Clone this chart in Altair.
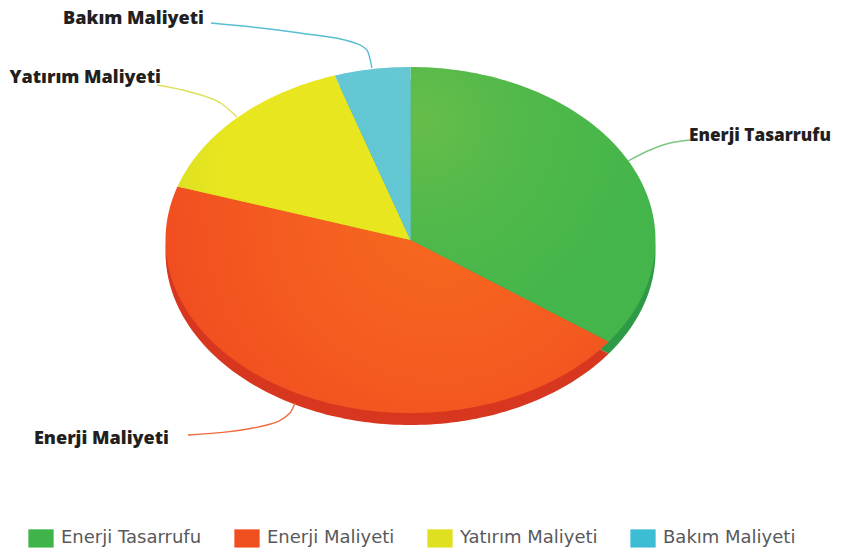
import math
import altair as alt
import pandas as pd

categories = ["Enerji Tasarrufu", "Enerji Maliyeti", "Yatırım Maliyeti", "Bakım Maliyeti"]
shares = [35, 45, 15, 5]
legend_colors = ["#3fb44a", "#f0501f", "#dfe01f", "#3dbdd3"]
rim_colors = ["#2f9a45", "#d7371f", "#c9c91c", "#3aa9bb"]
face_stops = [
    [("#66bd4b", 0.0), ("#52b94a", 0.4), ("#43b54a", 1.0)],
    [("#f7691f", 0.0), ("#f45b20", 0.45), ("#ee4220", 1.0)],
    [("#e8e61e", 0.0), ("#e8e61e", 0.6), ("#d8dc28", 1.0)],
    [("#62c6d3", 0.0), ("#66c8d4", 1.0)],
]
grad_centres = [(0.1, 0.2), (0.62, 0.3), (0.7, 0.6), (0.5, 0.5)]
label_x = [689, 169, 161, 204]
label_y = [140.5, 444, 83, 24]
leader_x = [
    [628, 650, 670, 690],
    [295, 290, 267, 188],
    [237, 222, 190, 157],
    [372, 367, 355, 300, 211],
]
leader_y = [
    [161, 150, 143, 140],
    [403, 413, 425, 435],
    [117, 104, 92, 85],
    [68, 50, 43, 33, 23],
]
leader_colors = ["#7cc67f", "#ef6a3c", "#dfe05a", "#58bfd2"]

CX, CY, RX, RY, DEPTH = 410.5, 240, 245, 173, 12


def wedge_rows(shift):
    rows = []
    total = sum(shares)
    start = 0.0
    for cat, s in zip(categories, shares):
        a0 = start / total * 2 * math.pi
        a1 = (start + s) / total * 2 * math.pi
        rows.append({"cat": cat, "i": 0, "x": CX, "y": CY + shift})
        n = max(8, int(s * 3))
        for k in range(n + 1):
            a = a0 + (a1 - a0) * k / n
            rows.append({"cat": cat, "i": k + 1, "x": CX + RX * math.sin(a), "y": CY + shift - RY * math.cos(a)})
        start += s
    return pd.DataFrame(rows)


xs = alt.Scale(domain=[8, 835], range=[0, 827], nice=False, zero=False)
ys = alt.Scale(domain=[8, 548], range=[0, 540], nice=False, zero=False)
X = alt.X("x:Q", scale=xs, axis=None)
Y = alt.Y("y:Q", scale=ys, axis=None)

faces = wedge_rows(0)
rims = wedge_rows(DEPTH)

rim_layer = alt.Chart(rims).mark_line(filled=True, interpolate="linear-closed", strokeWidth=0).encode(
    x=X, y=Y, order="i:Q",
    color=alt.Color("cat:N", scale=alt.Scale(domain=categories, range=rim_colors), legend=None),
)

face_layers = []
for cat, stops, (gx, gy) in zip(categories, face_stops, grad_centres):
    grad = alt.Gradient(
        gradient="radial", x1=gx, y1=gy, r1=0, x2=gx, y2=gy, r2=0.85,
        stops=[alt.GradientStop(color=c, offset=o) for c, o in stops],
    )
    face_layers.append(
        alt.Chart(faces[faces["cat"] == cat]).mark_line(
            filled=True, interpolate="linear-closed", strokeWidth=0, fill=grad
        ).encode(x=X, y=Y, order="i:Q")
    )

leader_rows = []
for cat, lx, ly in zip(categories, leader_x, leader_y):
    for i, (a, b) in enumerate(zip(lx, ly)):
        leader_rows.append({"cat": cat, "i": i, "x": a, "y": b})
leaders = alt.Chart(pd.DataFrame(leader_rows)).mark_line(interpolate="monotone", strokeWidth=1.4).encode(
    x=X, y=Y, order="i:Q", detail="cat:N",
    stroke=alt.Stroke("cat:N", scale=alt.Scale(domain=categories, range=leader_colors), legend=None),
)

labels_df = pd.DataFrame({"cat": categories, "x": label_x, "y": label_y,
                          "a": ["left", "right", "right", "right"]})
labels_layers = []
for al, fs in [("left", 17.2), ("right", 18.1)]:
    labels_layers.append(
        alt.Chart(labels_df[labels_df["a"] == al]).mark_text(
            font="Open Sans", fontWeight=800, fontSize=fs, align=al, baseline="alphabetic",
            color="#231f20",
        ).encode(x=X, y=Y, text="cat:N")
    )

legend_layer = alt.Chart(pd.DataFrame({"cat": categories})).mark_point(
    filled=True, opacity=1, size=0
).encode(
    color=alt.Color(
        "cat:N", sort=categories,
        scale=alt.Scale(domain=categories, range=legend_colors),
        legend=alt.Legend(
            title=None, orient="none", legendX=20, legendY=517, direction="horizontal", columns=4,
            symbolType="M-1,-0.72H1V0.72H-1Z", symbolSize=640, symbolStrokeWidth=0,
            symbolOpacity=1, labelFont="DejaVu Sans", labelFontSize=18, labelColor="#58595b",
            labelOffset=7, columnPadding=32, labelLimit=300,
        ),
    )
)

chart = alt.layer(rim_layer, *face_layers, leaders, *labels_layers, legend_layer).resolve_scale(
    color="independent", stroke="independent"
).properties(
    width=827, height=540, padding=0, autosize=alt.AutoSizeParams(type="none"),
    background="white",
).configure_view(stroke=None)

chart.save("out.html", embed_options={"renderer": "svg", "actions": False})
